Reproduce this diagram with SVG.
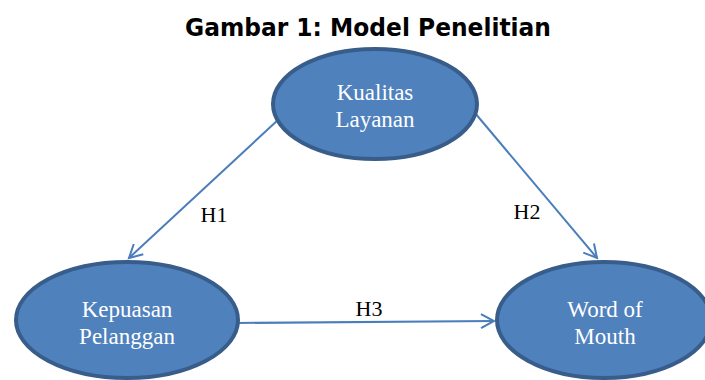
<svg xmlns="http://www.w3.org/2000/svg" width="705" height="380" viewBox="0 0 705 380">
<style>
.node ellipse{fill:#4F81BD;stroke:#385D8A;stroke-width:4}
.node text{font-family:"Liberation Serif","Times New Roman",serif;font-size:23px;fill:#FFFFFF;text-anchor:middle}
.edge{stroke:#4A7EBB;stroke-width:2;fill:none;marker-end:url(#arr)}
.lbl{font-family:"Liberation Serif","Times New Roman",serif;font-size:22px;fill:#000000;text-anchor:middle}
.title{font-family:"DejaVu Sans",Verdana,sans-serif;font-weight:bold;font-size:25px;fill:#000000;text-anchor:middle}
</style>
<defs>
<marker id="arr" markerUnits="userSpaceOnUse" markerWidth="20" markerHeight="20" viewBox="-14 -10 16 20" refX="0" refY="0" orient="auto">
<path d="M-13,-7 L0,0 L-13,7" fill="none" stroke="#4A7EBB" stroke-width="2"/>
</marker>
</defs>
<rect width="705" height="380" fill="#FFFFFF"/>
<text class="title" x="368" y="36" textLength="366" lengthAdjust="spacingAndGlyphs">Gambar 1: Model Penelitian</text>
<g id="connectors">
<line class="edge" x1="279" y1="119" x2="129" y2="258"/>
<line class="edge" x1="475" y1="113" x2="597" y2="258"/>
<line class="edge" x1="238" y1="323" x2="494" y2="321"/>
<text class="lbl" x="214" y="222">H1</text>
<text class="lbl" x="527" y="219">H2</text>
<text class="lbl" x="369" y="316">H3</text>
</g>
<g id="kualitas" class="node">
<ellipse cx="375" cy="104" rx="102" ry="55"/>
<text x="375" y="100">Kualitas</text>
<text x="375" y="127">Layanan</text>
</g>
<g id="kepuasan" class="node">
<ellipse cx="127" cy="320" rx="111" ry="58"/>
<text x="127" y="317">Kepuasan</text>
<text x="127" y="344">Pelanggan</text>
</g>
<g id="wom" class="node">
<ellipse cx="604" cy="320" rx="107" ry="58"/>
<text x="605" y="317">Word of</text>
<text x="605" y="344">Mouth</text>
</g>
</svg>
